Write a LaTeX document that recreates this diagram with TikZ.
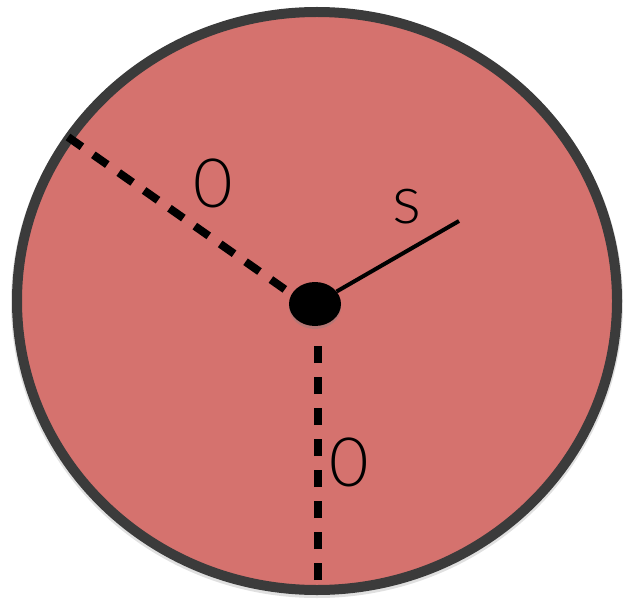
\documentclass[tikz,border=0pt]{standalone}
\usepackage{fontspec}
\setmainfont{Lato}[UprightFont=* Light]
\usepackage{xcolor}
\usetikzlibrary{shadows,shapes.geometric}
\definecolor{dialfill}{HTML}{D5726E}
\definecolor{dialrim}{HTML}{3B3B3B}

\begin{document}
\begin{tikzpicture}[x=1pt,y=1pt,font=\fontsize{68}{70}\selectfont,
 dial/.style={draw=dialrim,line width=10pt,fill=dialfill},
 hubdot/.style={ellipse,fill=black,minimum width=52pt,minimum height=44pt,inner sep=0pt,
   drop shadow={shadow xshift=0pt,shadow yshift=-3pt,opacity=0.35}},
 zeroline/.style={line width=8pt,dash pattern=on 17pt off 14pt},
 sline/.style={line width=4pt},
 lbl/.style={inner sep=0pt}]
\useasboundingbox (0,0) rectangle (623,598);
\fill[black,opacity=0.12] (317,295) ellipse [x radius=306,y radius=295];
\draw[dial] (317,297) ellipse [x radius=300,y radius=289];
\coordinate (rimleft) at (68,461);
\coordinate (rimbottom) at (318,18);
\coordinate (send) at (459,377);
\draw[zeroline] (rimleft)--(300,298);
\draw[zeroline] (rimbottom)--(318,262);
\node[hubdot] (hub) at (315,294) {};
\draw[sline] (hub.30)--(send);
\node[lbl] (zeroa) at (213,415) {0};
\node[lbl] (zerob) at (349,136) {0};
\node[lbl] (slabel) at (407,391) {s};
\end{tikzpicture}
\end{document}
